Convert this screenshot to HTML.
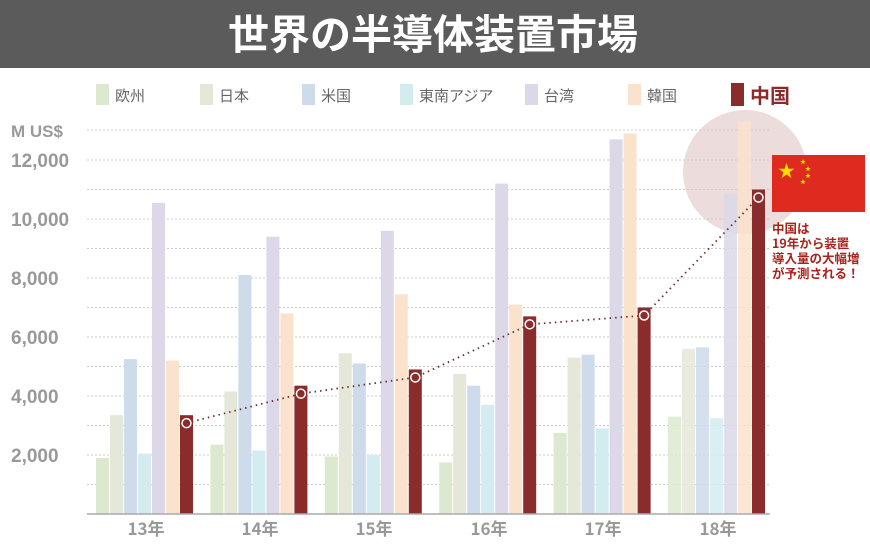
<!DOCTYPE html>
<html><head><meta charset="utf-8"><style>
body{margin:0;width:870px;height:550px;overflow:hidden;background:#fff;font-family:"Liberation Sans","Noto Sans CJK JP",sans-serif}
</style></head><body>
<svg width="870" height="550" xmlns="http://www.w3.org/2000/svg" font-family="Liberation Sans, Noto Sans CJK JP, sans-serif">
<rect x="0" y="0" width="870" height="68" fill="#5b5b5b"/>
<text x="433" y="49" text-anchor="middle" font-size="41" font-weight="bold" fill="#fff" font-family="Noto Sans CJK JP, sans-serif">世界の半導体装置市場</text>
<g font-size="15" fill="#666" font-family="Noto Sans CJK JP, sans-serif">
<rect x="96" y="84" width="13" height="21" fill="#dde9cf"/><text x="115" y="101">欧州</text>
<rect x="200" y="84" width="13" height="21" fill="#e5e7d9"/><text x="219" y="101">日本</text>
<rect x="302" y="84" width="13" height="21" fill="#cddbea"/><text x="321" y="101">米国</text>
<rect x="400" y="84" width="13" height="21" fill="#d3ecf0"/><text x="419" y="101">東南アジア</text>
<rect x="525" y="84" width="13" height="21" fill="#dcd8e8"/><text x="544" y="101">台湾</text>
<rect x="628" y="84" width="13" height="21" fill="#fbe2cc"/><text x="647" y="101">韓国</text>
<rect x="731" y="83" width="13" height="23" fill="#8b2c2c"/><text x="750" y="103" font-size="20" font-weight="bold" fill="#8b2c2c">中国</text>
</g>
<circle cx="745" cy="172" r="62" fill="#ecdcdc"/>
<g stroke="#ccc" stroke-width="1" stroke-dasharray="2,2">
<line x1="87" x2="770" y1="130" y2="130"/><line x1="87" x2="770" y1="160" y2="160"/><line x1="87" x2="770" y1="189.5" y2="189.5"/><line x1="87" x2="770" y1="219" y2="219"/><line x1="87" x2="770" y1="248.5" y2="248.5"/><line x1="87" x2="770" y1="278" y2="278"/><line x1="87" x2="770" y1="307.5" y2="307.5"/><line x1="87" x2="770" y1="337" y2="337"/><line x1="87" x2="770" y1="366.5" y2="366.5"/><line x1="87" x2="770" y1="396" y2="396"/><line x1="87" x2="770" y1="425.5" y2="425.5"/><line x1="87" x2="770" y1="455" y2="455"/><line x1="87" x2="770" y1="484.5" y2="484.5"/>
</g>
<g font-size="19" font-weight="bold" fill="#999">
<text x="11" y="137" font-size="17">M US$</text>
<text x="11" y="167">12,000</text><text x="11" y="226">10,000</text><text x="11" y="285">8,000</text><text x="11" y="344">6,000</text><text x="11" y="403">4,000</text><text x="11" y="462">2,000</text>
</g>
<g id="bars"></g>
<line x1="87" x2="770" y1="514" y2="514" stroke="#aaa" stroke-width="1.5"/>
<g font-size="17" font-weight="bold" fill="#999" text-anchor="middle" font-family="Noto Sans CJK JP, sans-serif">
<text x="146" y="535">13年</text><text x="260" y="535">14年</text><text x="374" y="535">15年</text><text x="489" y="535">16年</text><text x="603" y="535">17年</text><text x="718" y="535">18年</text>
</g>
<rect x="772" y="155" width="93" height="57" fill="#de2a1f"/>
<text x="778" y="177" font-size="17" fill="#ffde00">★</text>
<text x="800" y="164" font-size="6" fill="#ffde00">★</text><text x="805" y="171" font-size="6" fill="#ffde00">★</text><text x="805" y="178" font-size="6" fill="#ffde00">★</text><text x="800" y="184" font-size="6" fill="#ffde00">★</text>
<g font-size="12.5" font-weight="bold" fill="#a8231c" font-family="Noto Sans CJK JP, sans-serif">
<text x="772" y="233">中国は</text><text x="772" y="248">19年から装置</text><text x="772" y="263">導入量の大幅増</text><text x="772" y="278">が予測される！</text>
</g>
<g id="line"></g>
</svg>
<script>
var d=[[1900,3350,5250,2050,10550,5200,3350],[2350,4150,8100,2150,9400,6800,4350],[1950,5450,5100,2000,9600,7450,4900],[1750,4750,4350,3700,11200,7100,6700],[2750,5300,5400,2900,12700,12900,7000],[3300,5600,5650,3250,10850,13300,11000]];
var c=["#dde9cf","#e5e7d9","#cddbea","#d3ecf0","#dcd8e8","#fbe2cc","#8b2c2c"];
var s="",pts=[];
d.forEach(function(g,i){var x0=96+i*114.4;g.forEach(function(v,j){var h=v*59/2000;var x=x0+j*14;var op=(i==5&&j<6)?0.85:1;s+='<rect x="'+x+'" y="'+(514-h)+'" width="13" height="'+h+'" fill="'+c[j]+'" opacity="'+op+'"/>';if(j==6)pts.push([x+6.5,514-h+8]);});});
document.getElementById("bars").innerHTML=s;
var l='<polyline points="'+pts.map(function(p){return p.join(",")}).join(" ")+'" fill="none" stroke="#6b3030" stroke-width="1.8" stroke-dasharray="1.5,4"/>';
pts.forEach(function(p){l+='<circle cx="'+p[0]+'" cy="'+p[1]+'" r="4.5" fill="#8b2c2c" stroke="#fff" stroke-width="1.5"/>';});
document.getElementById("line").innerHTML=l;
</script>
</body></html>
